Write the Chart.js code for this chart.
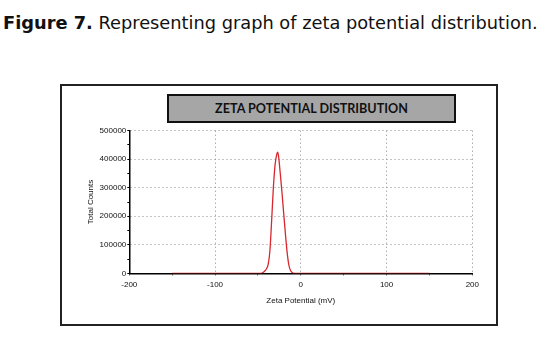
<!DOCTYPE html>
<html>
<head>
<meta charset="utf-8">
<script src="https://cdn.jsdelivr.net/npm/chart.js@4"></script>
<style>
body{margin:0;background:#fff;width:559px;height:350px;overflow:hidden;position:relative;}
#cap{position:absolute;left:3px;top:12px;font-family:"DejaVu Sans",sans-serif;font-size:17.8px;color:#111;white-space:nowrap;}
#cap b{font-weight:bold;}
#frame{position:absolute;left:60px;top:84px;width:434px;height:238px;border:2px solid #222;}
#c{position:absolute;left:0;top:0;}
#tbox{position:absolute;left:167px;top:94px;width:285px;height:25px;background:#a6a6a6;border:2px solid #111;
 font-family:Lato,sans-serif;font-weight:bold;font-size:12.6px;line-height:25px;text-align:center;color:#111;}
</style>
</head>
<body>
<div id="cap"><b>Figure 7.</b> Representing graph of zeta potential distribution.</div>
<div id="frame"></div>
<canvas id="c" width="559" height="350"></canvas>
<div id="tbox">ZETA POTENTIAL DISTRIBUTION</div>
<script>
// zeta potential (mV) and total counts
var zeta   = [-150, -50, -46, -44, -42, -40, -38, -36, -34, -32, -30, -28, -27, -26, -24, -22, -20, -18, -16, -14, -12, -10, -8, 150];
var counts = [0, 0, 0, 3000, 8000, 16000, 32000, 80000, 185000, 300000, 380000, 418000, 425000, 412000, 352000, 285000, 212000, 140000, 75000, 30000, 10000, 3000, 0, 0];

var pts=[];
for(var i=0;i<zeta.length;++i){
	pts.push({x:zeta[i],y:counts[i]});
}

var tickFont={family:'"Liberation Sans",Arial,sans-serif',size:8};

new Chart(document.getElementById('c').getContext('2d'),{
	type:'line',
	data:{datasets:[{
		data:pts,
		borderColor:'#d9272e',
		borderWidth:1.3,
		pointRadius:0,
		fill:false,
		cubicInterpolationMode:'monotone'
	}]},
	options:{
		responsive:false,
		animation:false,
		layout:{padding:{left:85.6,top:130.7,right:86.7,bottom:44}},
		plugins:{legend:{display:false},tooltip:{enabled:false}},
		scales:{
			x:{
				type:'linear',min:-200,max:200,
				afterFit:function(s){s.height=32.7;},
				ticks:{stepSize:50,autoSkip:false,maxRotation:0,font:tickFont,color:'#111',padding:5,
					callback:function(v){return v%100===0?String(v):'';}},
				grid:{
					color:function(ctx){return (ctx.tick && ctx.tick.value%100===0 && ctx.tick.value>-200)?'#8a8a8a':'rgba(0,0,0,0)';},
					tickColor:'#000',tickLength:2,lineWidth:1
				},
				border:{color:'#000',width:1.5,dash:[1,3]},
				title:{display:true,text:'Zeta Potential (mV)',font:tickFont,color:'#111',padding:0}
			},
			y:{
				min:0,max:500000,
				afterFit:function(s){s.width=43.7;},
				ticks:{stepSize:50000,autoSkip:false,font:tickFont,color:'#111',padding:1,
					callback:function(v){return v%100000===0?String(v):'';}},
				grid:{
					color:function(ctx){return (ctx.tick && ctx.tick.value%100000===0 && ctx.tick.value>0)?'#8a8a8a':'rgba(0,0,0,0)';},
					tickColor:'#000',tickLength:2,lineWidth:1
				},
				border:{color:'#000',width:1.5,dash:[1,3]},
				title:{display:true,text:'Total Counts',font:tickFont,color:'#111',padding:0}
			}
		}
	}
});
</script>
</body>
</html>
